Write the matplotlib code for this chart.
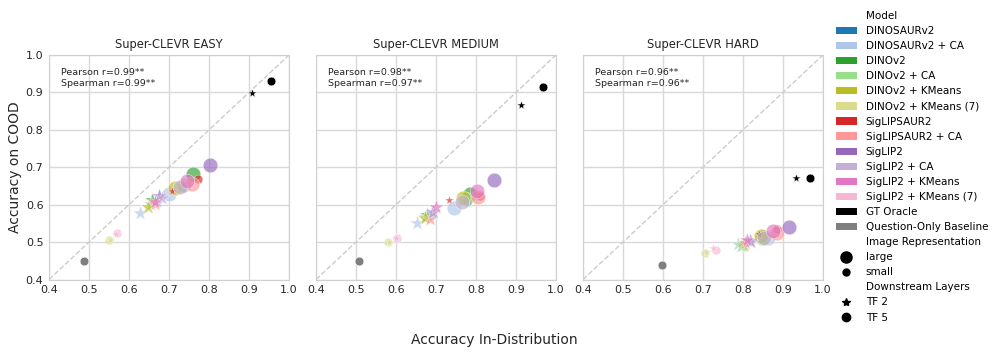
import matplotlib
matplotlib.use("Agg")
import matplotlib.pyplot as plt
from matplotlib.lines import Line2D
from matplotlib.patches import Patch

# ---- data -------------------------------------------------------------
models = [
    "DINOSAURv2", "DINOSAURv2 + CA", "DINOv2", "DINOv2 + CA",
    "DINOv2 + KMeans", "DINOv2 + KMeans (7)", "SigLIPSAUR2", "SigLIPSAUR2 + CA",
    "SigLIP2", "SigLIP2 + CA", "SigLIP2 + KMeans", "SigLIP2 + KMeans (7)",
    "GT Oracle", "Question-Only Baseline",
]
colors = [
    "#1f77b4", "#aec7e8", "#2ca02c", "#98df8a", "#bcbd22", "#dbdb8d",
    "#d62728", "#ff9896", "#9467bd", "#c5b0d5", "#e377c2", "#f7b6d2",
    "black", "#7f7f7f",
]
# image representation per model
img_repr = [
    "small", "large", "large", "large", "large", "small",
    "small", "large", "large", "large", "large", "small",
    "small", "small",
]

titles = ["Super-CLEVR EASY", "Super-CLEVR MEDIUM", "Super-CLEVR HARD"]
pearson = ["0.99**", "0.98**", "0.96**"]
spearman = ["0.99**", "0.97**", "0.96**"]

# TF 2 (star) points per panel: in-distribution acc, COOD acc (None = not shown)
tf2_x = [
    [0.673, 0.628, 0.658, 0.655, 0.648, 0.552, 0.708, 0.665, 0.676, 0.682, 0.665, 0.568, 0.908, None],
    [0.688, 0.653, 0.677, 0.672, 0.672, 0.583, 0.733, 0.685, 0.693, 0.690, 0.699, 0.600, 0.9125, None],
    [0.812, 0.788, 0.800, 0.796, 0.802, 0.708, 0.839, 0.804, 0.817, 0.820, 0.810, 0.724, 0.932, None],
]
tf2_y = [
    [0.605, 0.577, 0.612, 0.603, 0.594, 0.506, 0.637, 0.603, 0.624, 0.618, 0.608, 0.522, 0.899, None],
    [0.572, 0.552, 0.572, 0.568, 0.565, 0.500, 0.612, 0.561, 0.581, 0.578, 0.594, 0.512, 0.866, None],
    [0.502, 0.494, 0.492, 0.490, 0.495, 0.473, 0.521, 0.498, 0.503, 0.500, 0.505, 0.483, 0.672, None],
]
# TF 5 (circle) points per panel
tf5_x = [
    [0.734, 0.701, 0.759, 0.738, 0.714, 0.550, 0.773, 0.758, 0.803, 0.728, 0.744, 0.571, 0.955, 0.488],
    [0.777, 0.744, 0.786, 0.775, 0.768, 0.581, 0.810, 0.804, 0.846, 0.765, 0.803, 0.603, 0.967, 0.508],
    [0.856, 0.862, 0.850, 0.848, 0.846, 0.706, 0.886, 0.884, 0.915, 0.852, 0.876, 0.733, 0.968, 0.598],
]
tf5_y = [
    [0.644, 0.628, 0.682, 0.652, 0.644, 0.505, 0.668, 0.655, 0.706, 0.648, 0.664, 0.523, 0.931, 0.449],
    [0.608, 0.592, 0.628, 0.615, 0.617, 0.499, 0.623, 0.620, 0.666, 0.608, 0.636, 0.510, 0.915, 0.449],
    [0.512, 0.510, 0.514, 0.512, 0.515, 0.471, 0.534, 0.525, 0.541, 0.511, 0.529, 0.479, 0.671, 0.438],
]

ticks = [0.4, 0.5, 0.6, 0.7, 0.8, 0.9, 1.0]
sizes = {"large": 110, "small": 40}

plt.rcParams["font.family"] = "DejaVu Sans"
fig = plt.figure(figsize=(9.97, 3.53), dpi=100)

lefts = [49 / 997, 316 / 997, 583 / 997]
for i, left in enumerate(lefts):
    ax = fig.add_axes([left, 73.5 / 353, 240 / 997, 224.5 / 353])
    ax.set_xlim(0.4, 1.0)
    ax.set_ylim(0.4, 1.0)
    ax.set_xticks(ticks)
    ax.set_yticks(ticks)
    ax.grid(True, color="#d9d9d9", linewidth=1.0)
    ax.set_axisbelow(True)
    for sp in ax.spines.values():
        sp.set_color("#d0d0d0")
    ax.tick_params(length=0, labelsize=8, colors="#262626", pad=4)
    if i > 0:
        ax.set_yticklabels([])
    ax.plot([0.4, 1.0], [0.4, 1.0], ls="--", color="#cccccc", lw=1, zorder=1)

    for j in range(len(models)):
        alpha = 1.0 if j >= 12 else 0.65
        s = sizes[img_repr[j]]
        if tf5_x[i][j] is not None:
            ax.scatter(tf5_x[i][j], tf5_y[i][j], s=s, marker="o", color=colors[j],
                       alpha=alpha, edgecolor="white", linewidth=0.4, zorder=3)
        if tf2_x[i][j] is not None:
            ax.scatter(tf2_x[i][j], tf2_y[i][j], s=s * 1.2, marker="*", color=colors[j],
                       alpha=alpha, edgecolor="white", linewidth=0.4, zorder=3)

    ax.set_title(titles[i], fontsize=8.3, color="#262626", pad=5)
    ax.text(0.05, 0.94, f"Pearson r={pearson[i]}\nSpearman r={spearman[i]}",
            transform=ax.transAxes, fontsize=6.8, va="top", ha="left",
            color="#262626", linespacing=1.2)

fig.text(494 / 997, 1 - 340 / 353, "Accuracy In-Distribution", ha="center",
         va="center", fontsize=10, color="#262626")
fig.text(15 / 997, 1 - 167 / 353, "Accuracy on COOD", rotation=90, ha="center",
         va="center", fontsize=10, color="#262626")

# legend
blank = Line2D([], [], linestyle="none", marker="")
handles = [blank] + [Patch(facecolor=c, edgecolor="none") for c in colors]
labels = ["Model"] + models
handles += [blank,
            Line2D([], [], linestyle="none", marker="o", color="black", markersize=8),
            Line2D([], [], linestyle="none", marker="o", color="black", markersize=5),
            blank,
            Line2D([], [], linestyle="none", marker="*", color="black", markersize=6),
            Line2D([], [], linestyle="none", marker="o", color="black", markersize=6)]
labels += ["Image Representation", "large", "small", "Downstream Layers", "TF 2", "TF 5"]
fig.legend(handles, labels, loc="upper left", bbox_to_anchor=(832 / 997, 1 - 7 / 353),
           frameon=False, fontsize=7.45, labelspacing=0.49, handlelength=2.0,
           handletextpad=0.85, borderaxespad=0)

fig.savefig("out.png", dpi=100)
